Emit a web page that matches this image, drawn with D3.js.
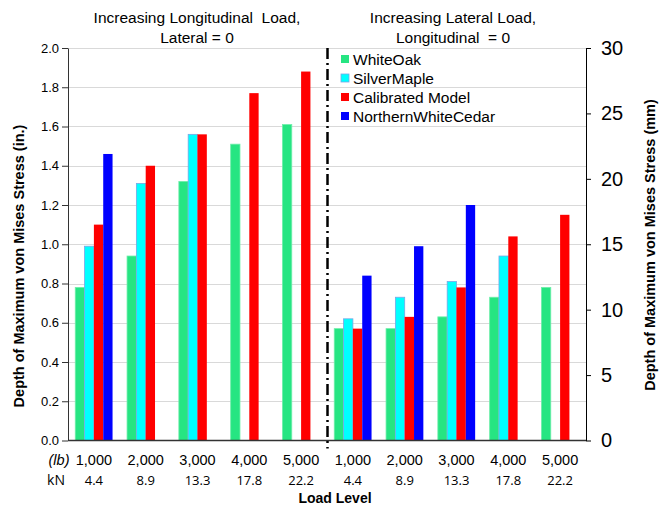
<!DOCTYPE html>
<html>
<head>
<meta charset="utf-8">
<script src="https://cdn.jsdelivr.net/npm/d3@7/dist/d3.min.js"></script>
<style>
  body { margin: 0; background: #fff; }
  svg { font-family: 'Liberation Sans', Arial, sans-serif; display: block; }
</style>
</head>
<body>
<svg width="660" height="506"></svg>
<script>
const width = 660
const height = 506
const margin = { top: 48, right: 74, bottom: 65, left: 68 }

// categories (load levels, two halves of the chart)
const lbLabels = ['1,000', '2,000', '3,000', '4,000', '5,000', '1,000', '2,000', '3,000', '4,000', '5,000']
const knLabels = ['4.4', '8.9', '13.3', '17.8', '22.2', '4.4', '8.9', '13.3', '17.8', '22.2']
const categories = d3.range(10)

const seriesNames = ['WhiteOak', 'SilverMaple', 'Calibrated Model', 'NorthernWhiteCedar']
const colors = ['#26e582', '#00ffff', '#ff0000', '#0000ff']

// depth in inches, null = no bar
const whiteOak = [0.78, 0.94, 1.32, 1.51, 1.61, 0.57, 0.57, 0.63, 0.73, 0.78]
const silverMaple = [0.99, 1.31, 1.56, null, null, 0.62, 0.73, 0.81, 0.94, null]
const calibrated = [1.10, 1.40, 1.56, 1.77, 1.88, 0.57, 0.63, 0.78, 1.04, 1.15]
const cedar = [1.46, null, null, null, null, 0.84, 0.99, 1.20, null, null]

const leftTicks = d3.range(0, 2.01, 0.2)
const rightTicks = [0, 5, 10, 15, 20, 25, 30]

const values = [whiteOak, silverMaple, calibrated, cedar]

const svg = d3.select('svg')

const x0 = d3.scaleBand()
  .domain(categories)
  .range([margin.left, width - margin.right])
  .paddingInner(0.28)
  .paddingOuter(0.14)

const x1 = d3.scaleBand()
  .domain(d3.range(4))
  .range([0, x0.bandwidth()])

const y = d3.scaleLinear()
  .domain([0, 2])
  .range([height - margin.bottom - 0.5, margin.top])

const yRight = d3.scaleLinear()
  .domain([0, 30])
  .range(y.range())

// grid lines
svg.append('g')
  .selectAll('line')
  .data(leftTicks.slice(1))
  .enter().append('line')
  .attr('x1', margin.left)
  .attr('x2', width - margin.right)
  .attr('y1', d => Math.round(y(d)) + 0.5)
  .attr('y2', d => Math.round(y(d)) + 0.5)
  .attr('stroke', '#d9d9d9')
  .attr('stroke-width', 1)

// bars
const bars = []
categories.forEach(c => {
  values.forEach((s, i) => {
    if (s[c] != null) bars.push({ c: c, i: i, v: s[c] })
  })
})

svg.append('g')
  .selectAll('rect')
  .data(bars)
  .enter().append('rect')
  .attr('x', d => x0(d.c) + x1(d.i))
  .attr('width', x1.bandwidth())
  .attr('y', d => y(d.v))
  .attr('height', d => y(0) - y(d.v))
  .attr('fill', d => colors[d.i])
  .attr('stroke', d => d.i === 1 ? '#7aa6e6' : (d.i === 0 ? '#6eeeaa' : 'none'))
  .attr('stroke-width', 0.8)

// left axis
const leftAxis = svg.append('g')
  .attr('transform', `translate(${margin.left},0)`)
  .call(d3.axisLeft(y).tickValues(leftTicks).tickFormat(d3.format('.1f')).tickSize(6).tickSizeOuter(0))
leftAxis.select('.domain').attr('stroke', '#333')
leftAxis.selectAll('.tick line').attr('stroke', '#333')
leftAxis.selectAll('text').attr('font-size', 13).attr('fill', '#000').attr('font-family', 'Liberation Sans, Arial')

// right axis
const rightAxis = svg.append('g')
  .attr('transform', `translate(${width - margin.right},0)`)
  .call(d3.axisRight(yRight).tickValues(rightTicks).tickSize(5).tickSizeOuter(0))
rightAxis.select('.domain').attr('stroke', '#000')
rightAxis.selectAll('.tick line').attr('stroke', '#000')
rightAxis.selectAll('text').attr('font-size', 20).attr('fill', '#000').attr('x', 15)
  .attr('font-family', 'Liberation Sans, Arial')

// bottom axis line
svg.append('line')
  .attr('x1', margin.left)
  .attr('x2', width - margin.right)
  .attr('y1', y(0))
  .attr('y2', y(0))
  .attr('stroke', '#333')
  .attr('stroke-width', 1.5)

// divider between the two halves
const divX = (x0(4) + x0.bandwidth() + x0(5)) / 2 + 0.5
svg.append('line')
  .attr('x1', divX)
  .attr('x2', divX)
  .attr('y1', margin.top)
  .attr('y2', y(0) + 8)
  .attr('stroke', '#000')
  .attr('stroke-width', 2.5)
  .attr('stroke-dasharray', '11,4,2,4')

// category label rows
svg.append('g')
  .selectAll('text')
  .data(categories)
  .enter().append('text')
  .attr('x', d => x0(d) + x0.bandwidth() / 2)
  .attr('y', 465)
  .attr('text-anchor', 'middle')
  .attr('font-size', 14.5)
  .text(d => lbLabels[d])

svg.append('g')
  .selectAll('text')
  .data(categories)
  .enter().append('text')
  .attr('x', d => x0(d) + x0.bandwidth() / 2)
  .attr('y', 485)
  .attr('text-anchor', 'middle')
  .attr('font-size', 13)
  .attr('font-family', 'Open Sans, sans-serif')
  .text(d => knLabels[d])

svg.append('text')
  .attr('x', 59)
  .attr('y', 465)
  .attr('text-anchor', 'middle')
  .attr('font-size', 14.5)
  .attr('font-style', 'italic')
  .text('(lb)')

svg.append('text')
  .attr('x', 56)
  .attr('y', 485)
  .attr('text-anchor', 'middle')
  .attr('font-size', 14)
  .attr('font-family', 'Open Sans, sans-serif')
  .text('kN')

svg.append('text')
  .attr('x', 335)
  .attr('y', 503)
  .attr('text-anchor', 'middle')
  .attr('font-size', 14)
  .attr('font-weight', 'bold')
  .text('Load Level')

// axis titles
svg.append('text')
  .attr('transform', 'translate(24,266) rotate(-90)')
  .attr('text-anchor', 'middle')
  .attr('font-size', 14.5)
  .attr('font-weight', 'bold')
  .text('Depth of Maximum von Mises Stress (in.)')

svg.append('text')
  .attr('transform', 'translate(655,245) rotate(-90)')
  .attr('text-anchor', 'middle')
  .attr('font-size', 14.5)
  .attr('font-weight', 'bold')
  .text('Depth of Maximum von Mises Stress (mm)')

// section titles
const titles = [
  { x: 197, lines: ['Increasing Longitudinal  Load,', 'Lateral = 0'] },
  { x: 453, lines: ['Increasing Lateral Load,', 'Longitudinal  = 0'] }
]
titles.forEach(t => {
  t.lines.forEach((l, k) => {
    svg.append('text')
      .attr('x', t.x)
      .attr('y', 23 + k * 20)
      .attr('text-anchor', 'middle')
      .attr('font-size', 15.5)
      .style('white-space', 'pre')
      .text(l)
  })
})

// legend
const legend = svg.append('g')
  .attr('transform', 'translate(341,59)')
seriesNames.forEach((n, i) => {
  legend.append('rect')
    .attr('x', 0)
    .attr('y', i * 19 - 4)
    .attr('width', 8)
    .attr('height', 8)
    .attr('fill', colors[i])
    .attr('stroke', i === 1 ? '#7aa6e6' : 'none')
    .attr('stroke-width', 0.8)
  legend.append('text')
    .attr('x', 12)
    .attr('y', i * 19 + 5.5)
    .attr('font-size', 15.5)
    .text(n)
})

d3.selectAll('text').attr('fill', '#000')
</script>
</body>
</html>
